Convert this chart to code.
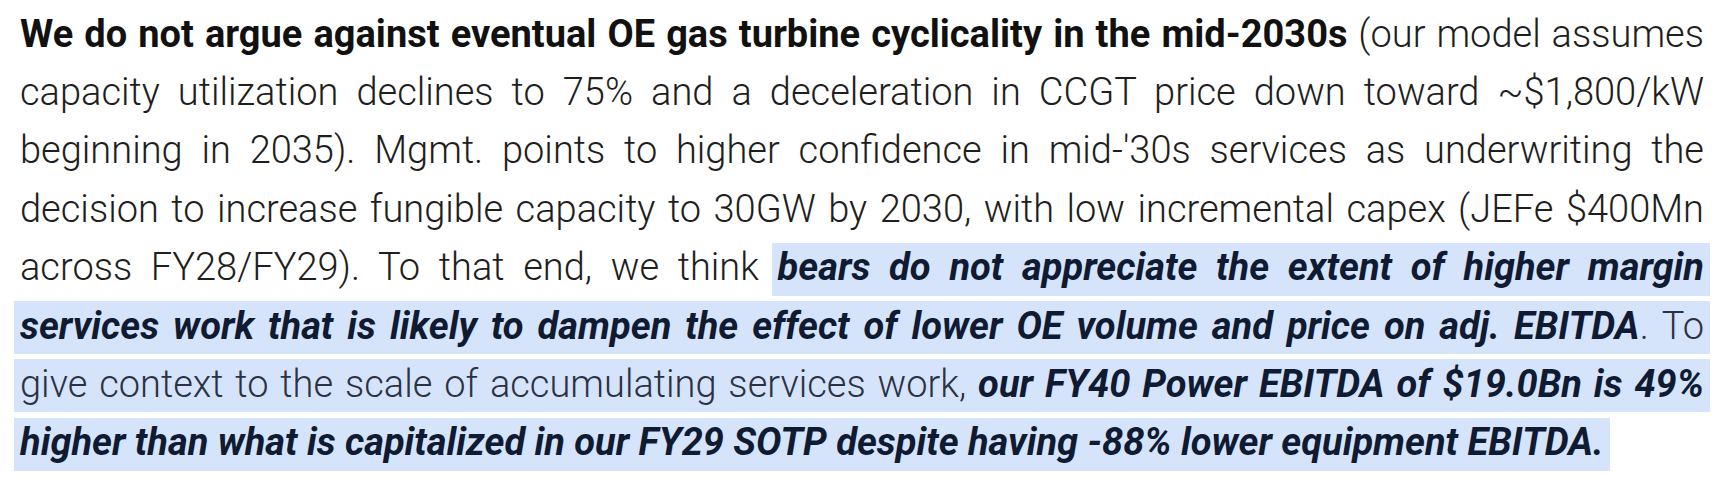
<!DOCTYPE html>
<html>
<head>
<meta charset="utf-8">
<script src="https://cdn.jsdelivr.net/npm/chart.js"></script>
<style>
  html, body { margin: 0; background: #fff; }
  body { width: 1719px; height: 481px; overflow: hidden; position: relative; }
  #para {
    position: absolute;
    z-index: 1;
    left: 20px;
    top: 4.5px;
    width: 1684px;
    font-family: Roboto, "Noto Sans", sans-serif;
    font-size: 38px;
    line-height: 58.4px;
    color: #1e1e1e;
  }
  .line { white-space: nowrap; text-align: justify; text-align-last: justify; }
  .line.last { text-align-last: left; }
  .lead { font-weight: 700; color: #111; }
  .plain { font-weight: 300; }
  .key { font-weight: 700; font-style: italic; color: #0f1a33; }
  .soft { font-weight: 300; color: #2b3243; }
  .base { display: inline-block; width: 0; height: 0; vertical-align: baseline; }
  .band { position: absolute; z-index: 0; background: #d6e4fb; }
</style>
</head>
<body>
<div id="para"></div>
<script>
// each line: list of [style, text]; hl marks the blue highlight band
let line1 = [['lead', 'We do not argue against eventual OE gas turbine cyclicality in the mid-2030s'], ['plain', ' (our model assumes']];
let line2 = [['plain', 'capacity utilization declines to 75% and a deceleration in CCGT price down toward ~$1,800/kW']];
let line3 = [['plain', "beginning in 2035). Mgmt. points to higher confidence in mid-'30s services as underwriting the"]];
let line4 = [['plain', 'decision to increase fungible capacity to 30GW by 2030, with low incremental capex (JEFe $400Mn']];
let line5 = [['plain', 'across FY28/FY29). To that end, we think '], ['hl', [['key', 'bears do not appreciate the extent of higher margin']]]];
let line6 = [['hl', [['key', 'services work that is likely to dampen the effect of lower OE volume and price on adj. EBITDA'], ['soft', '. To']]]];
let line7 = [['hl', [['soft', 'give context to the scale of accumulating services work, '], ['key', 'our FY40 Power EBITDA of $19.0Bn is 49%']]]];
let line8 = [['hl', [['key', 'higher than what is capitalized in our FY29 SOTP despite having -88% lower equipment EBITDA.']]]];

let lines = [line1, line2, line3, line4, line5, line6, line7, line8];

function makeSpan(seg) {
    let span = document.createElement('span');
    span.className = seg[0];
    if (Array.isArray(seg[1])) {
        seg[1].forEach(inner => span.appendChild(makeSpan(inner)));
    } else {
        span.textContent = seg[1];
    }
    return span;
}

let para = document.getElementById('para');
lines.forEach((line, i) => {
    let div = document.createElement('div');
    div.className = i === lines.length - 1 ? 'line last' : 'line';
    let marker = document.createElement('span');
    marker.className = 'base';
    div.appendChild(marker);
    line.forEach(seg => div.appendChild(makeSpan(seg)));
    para.appendChild(div);
});

// highlight band behind each hl run: from baseline-37.5 to baseline+15.5, 6px past the text
document.querySelectorAll('#para .line').forEach(div => {
    let baseline = div.querySelector('.base').getBoundingClientRect().bottom;
    div.querySelectorAll('.hl').forEach(span => {
        let r = span.getBoundingClientRect();
        let band = document.createElement('div');
        band.className = 'band';
        band.style.left = (r.left - 6) + 'px';
        band.style.width = (r.width + 12) + 'px';
        band.style.top = (baseline - 37.5) + 'px';
        band.style.height = '53px';
        document.body.appendChild(band);
    });
});
</script>
</body>
</html>
